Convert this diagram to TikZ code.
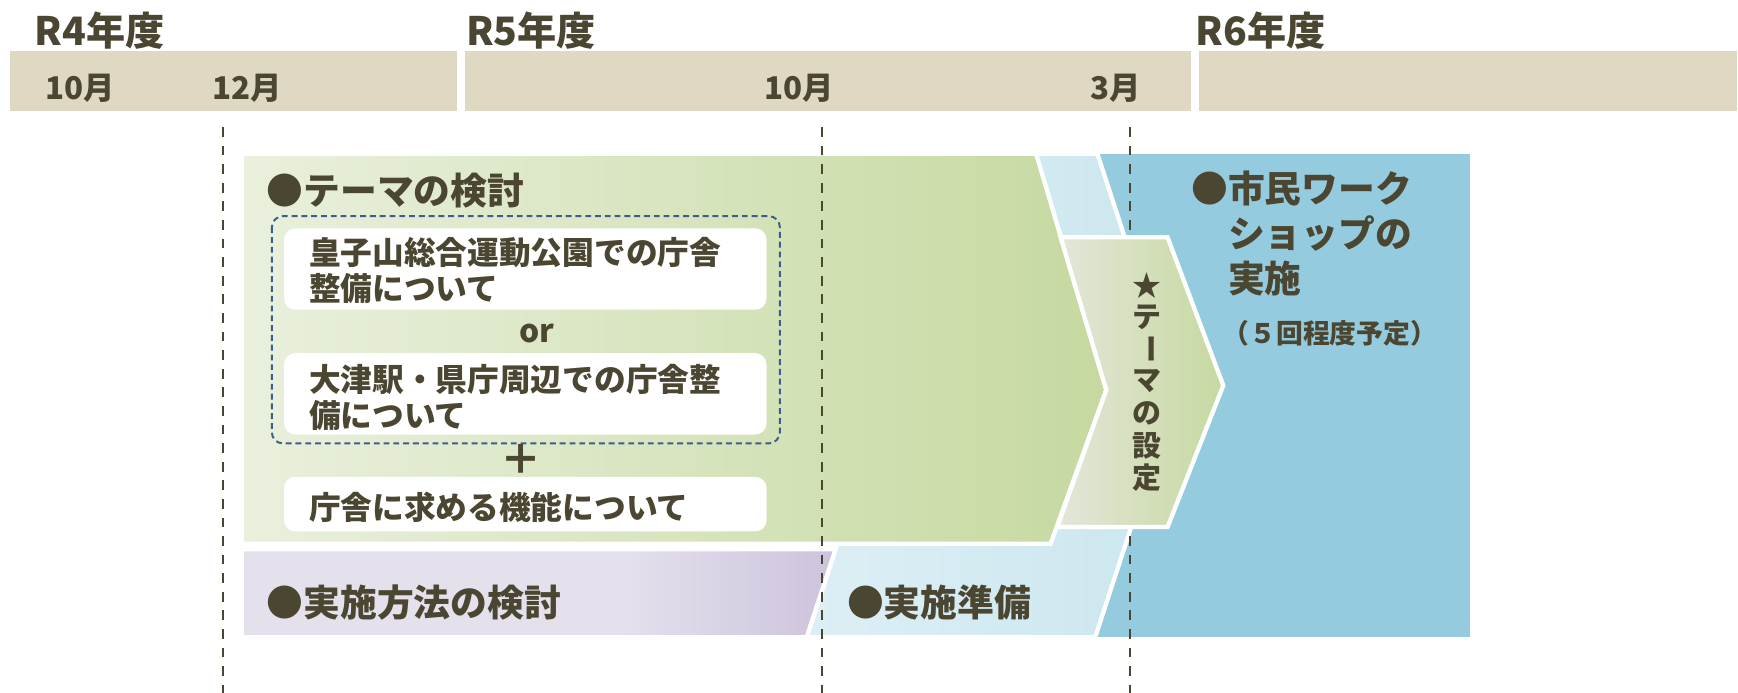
\documentclass[tikz,border=0pt]{standalone}
\usepackage{fontspec}
\setmainfont{Noto Sans CJK JP}
\usepackage{graphicx}
\usetikzlibrary{positioning}
\definecolor{ink}{HTML}{4B4631}
\definecolor{beige}{HTML}{DFD9C4}
\definecolor{greenL}{HTML}{E9F0DD}
\definecolor{greenR}{HTML}{C6D9A0}
\definecolor{greyL}{HTML}{E4E6DA}
\definecolor{lilacL}{HTML}{E4E0EC}
\definecolor{lilacR}{HTML}{CDC3DD}
\definecolor{skyL}{HTML}{DDEFF5}
\definecolor{skyR}{HTML}{CBE6EF}
\definecolor{sea}{HTML}{95CBDE}
\definecolor{frame}{HTML}{3C5E8C}
\pgfdeclarehorizontalshading{lilacfade}{100bp}{color(0bp)=(lilacL); color(25bp)=(lilacL);
  color(57bp)=(lilacL); color(75bp)=(lilacR); color(100bp)=(lilacR)}

\begin{document}
\begin{tikzpicture}[x=0.02cm, y=-0.02cm,
    every node/.style={text=ink, inner sep=0pt},
    year/.style={anchor=west, font=\fontsize{20}{24}\selectfont\bfseries},
    month/.style={font=\fontsize{16}{19}\selectfont\bfseries},
    head/.style={anchor=west, align=left, font=\fontsize{18.8}{23}\selectfont\bfseries},
    item/.style={anchor=west, align=left, font=\fontsize{16.2}{18.2}\selectfont\bfseries},
    note/.style={anchor=west, font=\fontsize{13.7}{16}\selectfont\bfseries},
    vchar/.style={font=\fontsize{14.8}{16}\selectfont\bfseries},
    band/.style={fill=beige},
    wbox/.style={fill=white, rounded corners=0.2cm},
    edge/.style={draw=white, line width=2.2pt},
    guide/.style={draw=ink, line width=1pt, dash pattern=on 5pt off 4.5pt}]
    \useasboundingbox (0,0) rectangle (1560,622);

    % years and months
    \fill[band] (9,46) rectangle (410,100);
    \fill[band] (417,46) rectangle (1069,100);
    \fill[band] (1076,46) rectangle (1559,100);
    \foreach \x/\y [count=\i] in {31/R4,418/R5,1073/R6}
      \node[year] (fy\i) at (\x,27.5) {\y 年度};
    \foreach \x/\m [count=\i] in {72/10,222/12,717/10,1001/3}
      \node[month] (mon\i) at (\x,79) {\m 月};

    % phases
    \fill[sea] (960,138) rectangle (1319,572);
    \shadedraw[edge, left color=skyL, right color=skyR]
      (800,138) -- (985,138) -- (1055,352) -- (983,572) -- (724,572) -- (750,493) -- cycle;
    \shadedraw[edge, shading=lilacfade]
      (217,493) -- (750,493) -- (724,572) -- (217,572) -- cycle;
    \shadedraw[edge, left color=greenL, right color=greenR]
      (217,138) -- (930,138) -- (993,350) -- (943,488) -- (217,488) -- cycle;

    % month guides
    \foreach \x in {200,738,1014}
      \draw[guide] (\x,114) -- (\x,622);

    \shadedraw[edge, left color=greyL, right color=greenR]
      (952,213) -- (1048,213) -- (1098,346) -- (1048,473) -- (949,473) -- (993,350) -- cycle;
    \foreach \c [count=\i] in {★,テ,{\rotatebox[origin=c]{-90}{ー}},マ,の,設,定}
      \node[vchar] (set\i) at (1029.5,{256+28.8*(\i-1)}) {\c};

    % theme study
    \node[head] (theme) at (239,171) {●テーマの検討};
    \draw[frame, line width=1pt, dash pattern=on 3pt off 2pt, rounded corners=0.2cm]
      (244,194) rectangle (700,398);
    \fill[wbox] (255,205) rectangle (688,278);
    \fill[wbox] (255,317) rectangle (688,390);
    \fill[wbox] (255,428) rectangle (688,477);
    \node[item] (opt1) at (277,243) {皇子山総合運動公園での庁舎\\整備について};
    \node[item] (or) at (466,299) {or};
    \node[item] (opt2) at (277,357) {大津駅・県庁周辺での庁舎整\\備について};
    \node[font=\fontsize{21}{24}\selectfont\bfseries] (plus) at (468,412) {＋};
    \node[item] (func) at (277,455) {庁舎に求める機能について};

    \node[head] (method) at (239,541) {●実施方法の検討};
    \node[head] (prep) at (760,541) {●実施準備};
    \node[head] (ws) at (1069,209.5) {●市民ワーク\\\phantom{●}ショップの\\\phantom{●}実施};
    \node[note] (times) at (1097,299) {（５回程度予定）};
  \end{tikzpicture}
\end{document}
